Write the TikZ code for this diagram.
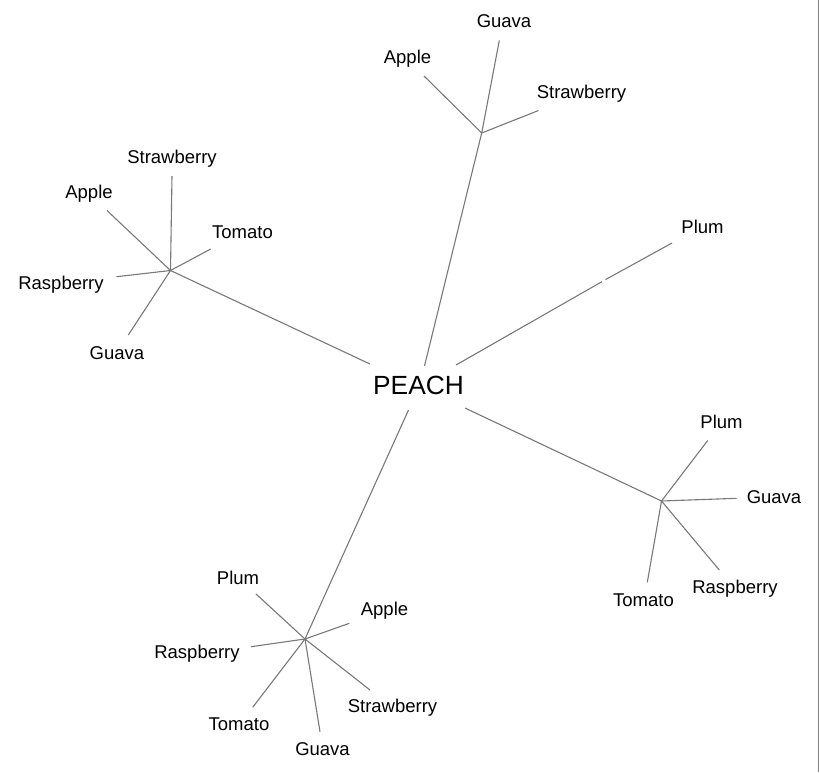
\documentclass[tikz,border=0pt]{standalone}
\usepackage{fontspec}
\setmainfont{Liberation Sans}
\begin{document}
\begin{tikzpicture}[x=1pt,y=-1pt,
  edge/.style={draw=gray!95!black,line width=1.1pt},
  leaf/.style={font=\fontsize{18.5}{18.5}\selectfont,inner sep=0pt,anchor=center},
  root/.style={font=\fontsize{26.3}{26.3}\selectfont,inner sep=0pt,anchor=center}]
\useasboundingbox (0,0) rectangle (819,772);
\fill[white] (0,0) rectangle (819,772);
\draw[gray,line width=1.2pt] (818.2,0) coordinate (bt) -- (818.2,772) coordinate (bb);

\node[root] (peach) at (418.5,385) {PEACH};

% ends of the main branches near PEACH
\coordinate (pT) at (424.5,366);
\coordinate (pL) at (370,364);
\coordinate (pR) at (456,365);
\coordinate (pBR) at (465,408);
\coordinate (pB) at (408.5,410);

% hubs
\coordinate (hT) at (481.7,133);
\coordinate (hL) at (170.5,270.5);
\coordinate (hR) at (661.5,501);
\coordinate (hB) at (305,639);
\coordinate (gA) at (602,281.6);
\coordinate (gB) at (605.5,279.6);
\coordinate (plumEnd) at (672,243);

\draw[edge] (pT) -- (hT);
\draw[edge] (pL) -- (hL);
\draw[edge] (pR) -- (gA);
\draw[edge] (gB) -- (plumEnd);
\draw[edge] (pBR) -- (hR);
\draw[edge] (pB) -- (hB);

% top cluster
\coordinate (tG) at (499.3,40.5);
\coordinate (tA) at (424,76);
\coordinate (tS) at (538.5,110.5);
\draw[edge] (hT) -- (tG);
\draw[edge] (hT) -- (tA);
\draw[edge] (hT) -- (tS);
\node[leaf] (tGl) at (504,21.5) {Guava};
\node[leaf] (tAl) at (407.5,58.5) {Apple};
\node[leaf] (tSl) at (581.5,93.5) {Strawberry};

% plum
\node[leaf] (plum) at (702.5,226.5) {Plum};

% left cluster
\coordinate (lS) at (172,176);
\coordinate (lA) at (107,210.5);
\coordinate (lT) at (210.7,249);
\coordinate (lR) at (116.5,276.7);
\coordinate (lG) at (128.3,335);
\draw[edge] (hL) -- (lS);
\draw[edge] (hL) -- (lA);
\draw[edge] (hL) -- (lT);
\draw[edge] (hL) -- (lR);
\draw[edge] (hL) -- (lG);
\node[leaf] (lSl) at (172,158.5) {Strawberry};
\node[leaf] (lAl) at (89,193.5) {Apple};
\node[leaf] (lTl) at (242.5,232.5) {Tomato};
\node[leaf] (lRl) at (61,285) {Raspberry};
\node[leaf] (lGl) at (117,353) {Guava};

% right cluster
\coordinate (rP) at (707.7,440.5);
\coordinate (rG) at (736.7,498.3);
\coordinate (rR) at (719.3,570);
\coordinate (rT) at (647.3,582.3);
\draw[edge] (hR) -- (rP);
\draw[edge] (hR) -- (rG);
\draw[edge] (hR) -- (rR);
\draw[edge] (hR) -- (rT);
\node[leaf] (rPl) at (721.5,422) {Plum};
\node[leaf] (rGl) at (774,497.5) {Guava};
\node[leaf] (rRl) at (735,588.5) {Raspberry};
\node[leaf] (rTl) at (643.5,600.5) {Tomato};

% bottom cluster
\coordinate (bP) at (256,594);
\coordinate (bA) at (349.3,623.3);
\coordinate (bR) at (251,646.7);
\coordinate (bT) at (252.7,707.3);
\coordinate (bG) at (320,731.7);
\coordinate (bS) at (370,690);
\draw[edge] (hB) -- (bP);
\draw[edge] (hB) -- (bA);
\draw[edge] (hB) -- (bR);
\draw[edge] (hB) -- (bT);
\draw[edge] (hB) -- (bG);
\draw[edge] (hB) -- (bS);
\node[leaf] (bPl) at (238,577.5) {Plum};
\node[leaf] (bAl) at (384.5,610.5) {Apple};
\node[leaf] (bRl) at (197,654) {Raspberry};
\node[leaf] (bTl) at (239,724.5) {Tomato};
\node[leaf] (bGl) at (322.5,749) {Guava};
\node[leaf] (bSl) at (392.5,707.5) {Strawberry};
\end{tikzpicture}
\end{document}
